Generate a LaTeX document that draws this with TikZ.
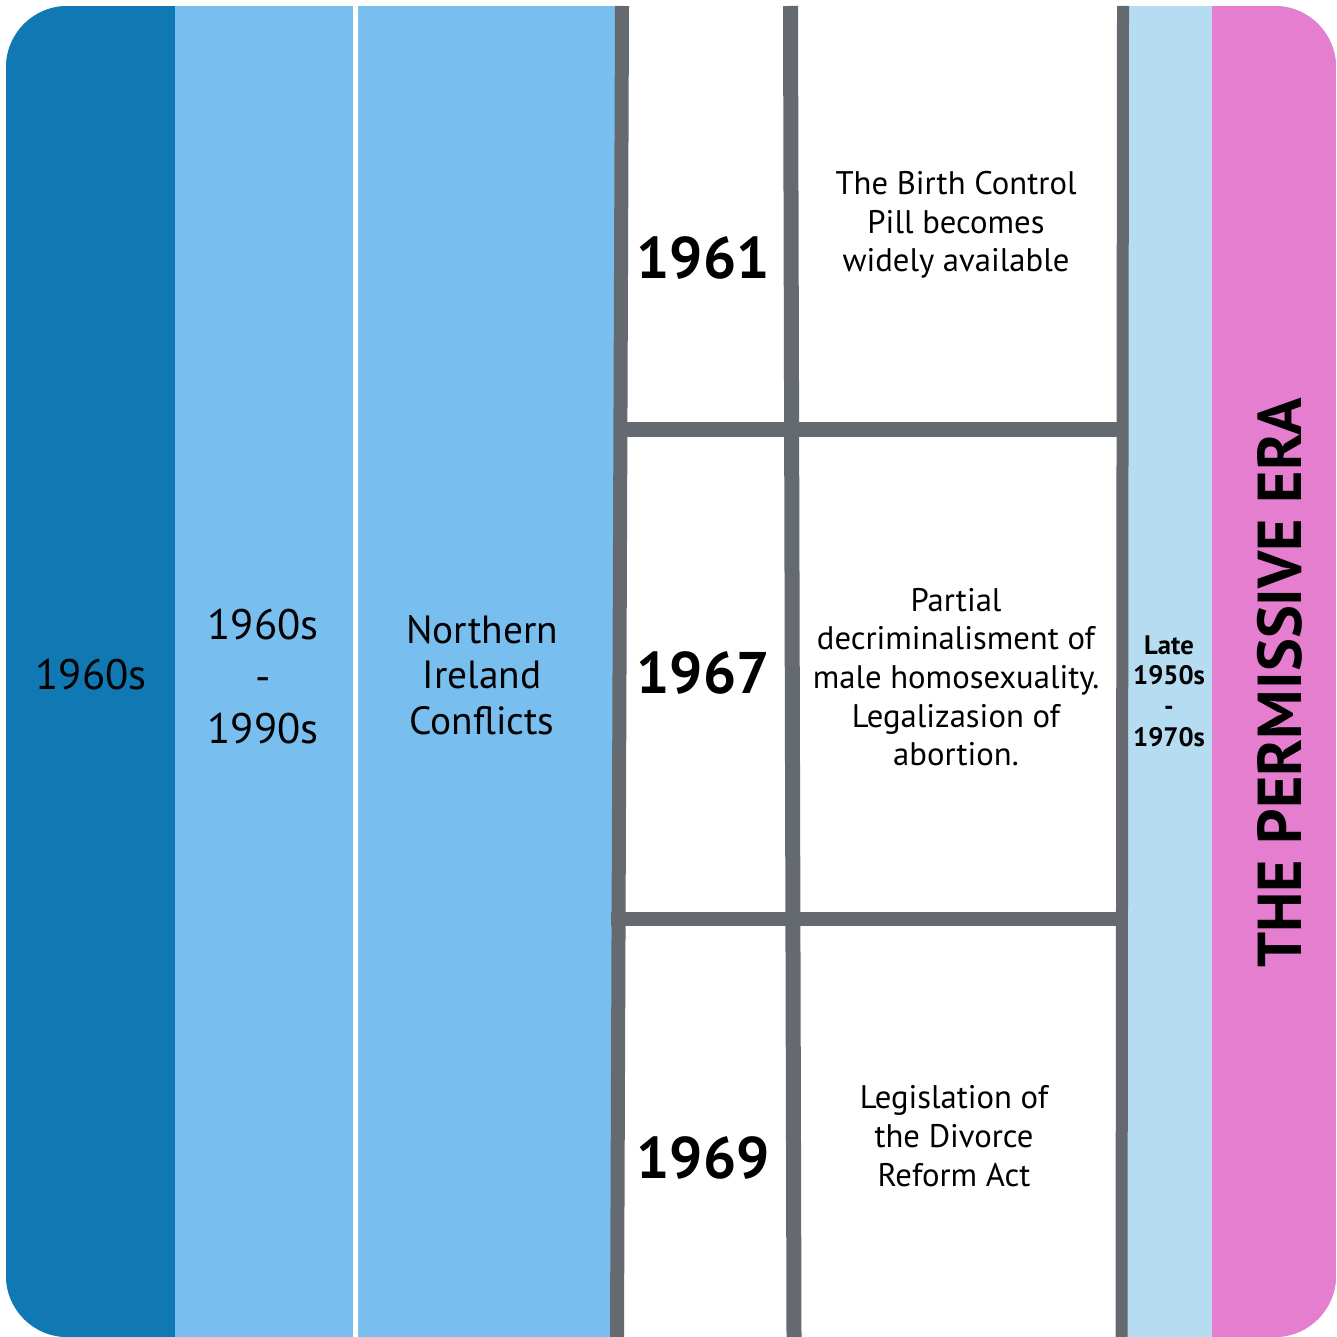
\documentclass[tikz,border=0pt]{standalone}
\usepackage{fontspec}
\setmainfont{PT Sans}
\definecolor{deepblue}{RGB}{16,120,178}
\definecolor{skyblue}{RGB}{120,190,238}
\definecolor{paleblue}{RGB}{182,220,241}
\definecolor{rulegrey}{RGB}{101,106,113}
\definecolor{erapink}{RGB}{229,126,207}

\tikzset{
  gridline/.style={draw=rulegrey,line width=10.5pt},
  decade/.style={align=center,inner sep=0.75pt,font=\fontsize{32}{39}\selectfont},
  yearlabel/.style={inner sep=0.75pt,font=\bfseries\fontsize{44}{50}\selectfont},
  eventtext/.style={align=center,inner sep=0.75pt,font=\fontsize{24.5}{29}\selectfont}
}

\begin{document}
\begin{tikzpicture}[x=0.75pt,y=0.75pt,yscale=-1,xscale=1]

\useasboundingbox (0,0) rectangle (1336,1337);
\fill [white] (0,0) rectangle (1336,1337);

\begin{scope}
\clip [rounded corners=46pt] (6,6) rectangle (1336,1337);
\fill [skyblue] (6,6) rectangle (1336,1337);
\fill [deepblue] (6,6) rectangle (175,1337);
\fill [white] (353,6) rectangle (358,1337);
\fill [white] (622,6) -- (1123,6) -- (1121.5,1337) -- (617,1337) -- cycle;
\fill [paleblue] (1123,6) rectangle (1212,1337);
\fill [erapink] (1212,6) rectangle (1336,1337);
\end{scope}

% grid of the timeline
\draw [gridline] (622,6) -- (617,1337);
\draw [gridline,line width=11.25pt] (790.5,6) -- (794,1337);
\draw [gridline,line width=9pt] (1123,6) -- (1121.5,1337);
\draw [gridline,line width=11.25pt] (616,429.5) -- (1128,429.5);
\draw [gridline] (611,919) -- (1127,919);

\node [decade] (sixties) at (91,675) {1960s};
\node [decade] (troubles) at (263,677) {1960s\\-\\1990s};
\node [decade,font=\fontsize{29.5}{34}\selectfont] (ireland) at (482,675) {Northern\\Ireland\\Conflicts};

\node [yearlabel] (y61) at (703,258) {1961};
\node [yearlabel] (y67) at (703,673) {1967};
\node [yearlabel] (y69) at (703,1158) {1969};

\node [eventtext] (pill) at (956,225) {The Birth Control\\Pill becomes\\widely available};
\node [eventtext] (reform) at (956,677) {Partial\\decriminalisment of\\male homosexuality.\\Legalizasion of\\abortion.};
\node [eventtext] (divorce) at (954,1136) {Legislation of\\the Divorce\\Reform Act};

\node [align=center,inner sep=0.75pt,font=\bfseries\fontsize{20}{23}\selectfont] (span) at (1169,691) {Late\\1950s\\-\\1970s};
\node [rotate=90,inner sep=0.75pt,font=\bfseries\fontsize{46.5}{50}\selectfont] (era) at (1280,683) {THE PERMISSIVE ERA};

\end{tikzpicture}
\end{document}
